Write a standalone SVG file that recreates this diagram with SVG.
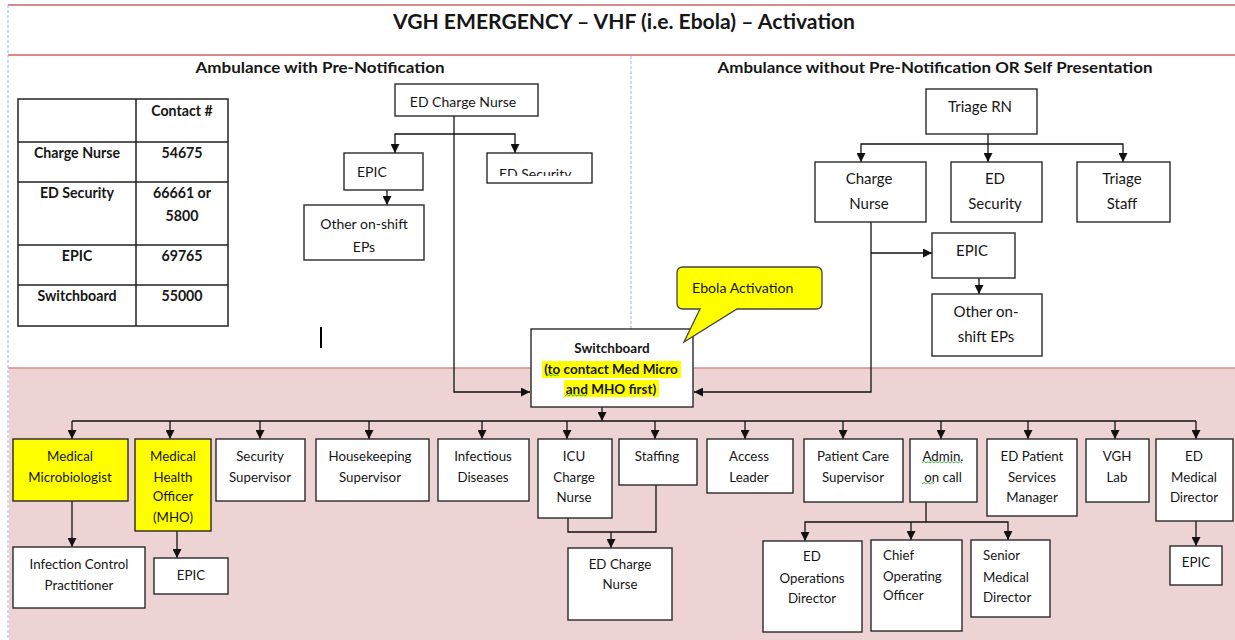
<svg xmlns="http://www.w3.org/2000/svg" width="1235" height="640" viewBox="0 0 1235 640">
<defs>
<style>
.bx{fill:#fff;stroke:#2a2a2a;stroke-width:1.4}
.yl{fill:#ffff00;stroke:#2a2a2a;stroke-width:1.4}
.ln{fill:none;stroke:#111;stroke-width:1.3}
.ar{fill:none;stroke:#111;stroke-width:1.3;marker-end:url(#ah)}
text{font-family:Lato,"Open Sans","Liberation Sans",sans-serif;fill:#161616}
.t{font-size:13.3px;text-anchor:middle}
.tl{font-size:13.3px}
.m{font-size:14px;text-anchor:middle}
.r{font-size:15px;text-anchor:middle}
.b{font-size:13.5px;font-weight:bold;text-anchor:middle}
.tb{font-size:14.2px;font-weight:bold;text-anchor:middle}
.sq{fill:none;stroke:#3aa83a;stroke-width:0.9}
</style>
<marker id="ah" viewBox="0 0 10 10" refX="10" refY="5" markerWidth="9" markerHeight="9" orient="auto" markerUnits="userSpaceOnUse">
<path d="M0,0 L10,5 L0,10 z" fill="#111"/>
</marker>
<clipPath id="secclip"><rect x="487" y="153" width="105" height="23"/></clipPath>
</defs>

<!-- background -->
<rect x="0" y="0" width="1235" height="640" fill="#fff"/>
<rect x="9" y="368" width="1226" height="272" fill="#eed3d4"/>
<g id="frame">
<line x1="8" y1="5" x2="1235" y2="5" stroke="#d98a8b" stroke-width="2"/>
<line x1="8" y1="55" x2="1235" y2="55" stroke="#d98a8b" stroke-width="2"/>
<line x1="8" y1="368" x2="1235" y2="368" stroke="#d98a8b" stroke-width="1.6"/>
<line x1="8" y1="5" x2="8" y2="640" stroke="#9fb6d6" stroke-width="1" stroke-dasharray="3,2"/>
<line x1="631" y1="56" x2="631" y2="368" stroke="#9fb6d6" stroke-width="1" stroke-dasharray="3,2"/>
</g>

<g id="titles">
<text x="624" y="29" font-size="20" font-weight="bold" text-anchor="middle" textLength="462" lengthAdjust="spacingAndGlyphs">VGH EMERGENCY – VHF (i.e. Ebola) – Activation</text>
<text x="320" y="73" font-size="15" font-weight="bold" text-anchor="middle" textLength="249" lengthAdjust="spacingAndGlyphs">Ambulance with Pre-Notification</text>
<text x="935" y="73" font-size="15" font-weight="bold" text-anchor="middle" textLength="435" lengthAdjust="spacingAndGlyphs">Ambulance without Pre-Notification OR Self Presentation</text>
</g>

<!-- contact table -->
<g id="contact-table">
<rect x="18" y="99" width="210" height="227" fill="#fff" stroke="#222" stroke-width="1.5"/>
<path d="M136,99 V326 M18,142 H228 M18,182 H228 M18,245 H228 M18,285 H228" stroke="#222" stroke-width="1.5" fill="none"/>
<text class="tb" x="182" y="116">Contact #</text>
<text class="tb" x="77" y="158">Charge Nurse</text>
<text class="tb" x="182" y="158">54675</text>
<text class="tb" x="77" y="198">ED Security</text>
<text class="tb" x="182" y="198">66661 or</text>
<text class="tb" x="182" y="221">5800</text>
<text class="tb" x="77" y="261">EPIC</text>
<text class="tb" x="182" y="261">69765</text>
<text class="tb" x="77" y="301">Switchboard</text>
<text class="tb" x="182" y="301">55000</text>
</g>

<!-- text cursor mark -->
<line x1="321" y1="327" x2="321" y2="348" stroke="#000" stroke-width="2"/>

<!-- connectors -->
<g id="connectors">
<path class="ln" d="M454,116 V134"/>
<path class="ar" d="M454,134 H395 V153"/>
<path class="ar" d="M454,134 H515 V153"/>
<path class="ar" d="M454,134 V392 H530"/>
<path class="ar" d="M387,190 V205"/>

<path class="ar" d="M988,134 V162"/>
<path class="ar" d="M988,144 H861 V162"/>
<path class="ar" d="M988,144 H1123 V162"/>
<path class="ar" d="M871,222 V392 H694"/>
<path class="ar" d="M871,253 H932"/>
<path class="ar" d="M979,278 V294"/>

<path class="ar" d="M602,407 V421"/>
<path class="ln" d="M72,421 H1196"/>
<path class="ar" d="M72,421 V439"/>
<path class="ar" d="M170,421 V439"/>
<path class="ar" d="M260,421 V439"/>
<path class="ar" d="M369,421 V439"/>
<path class="ar" d="M482,421 V439"/>
<path class="ar" d="M567,421 V439"/>
<path class="ar" d="M655,421 V439"/>
<path class="ar" d="M745,421 V439"/>
<path class="ar" d="M843,421 V439"/>
<path class="ar" d="M941,421 V439"/>
<path class="ar" d="M1028,421 V439"/>
<path class="ar" d="M1115,421 V439"/>
<path class="ar" d="M1196,421 V439"/>

<path class="ar" d="M72,501 V547"/>
<path class="ar" d="M177,531 V558"/>
<path class="ln" d="M568,518 V532 H656 V485"/>
<path class="ar" d="M611,532 V548"/>
<path class="ln" d="M926,502 V522"/>
<path class="ar" d="M926,522 H805 V541"/>
<path class="ar" d="M911,522 V540"/>
<path class="ar" d="M926,522 H1008 V540"/>
<path class="ar" d="M1196,521 V546"/>
</g>

<!-- left (pre-notification) nodes -->
<g id="ed-charge-nurse-top"><rect class="bx" x="395" y="84" width="143" height="32"/><text class="m" x="463" y="107">ED Charge Nurse</text></g>
<g id="epic-left"><rect class="bx" x="344" y="153" width="79" height="37"/><text x="357" y="177" font-size="14">EPIC</text></g>
<g id="ed-security-left"><rect class="bx" x="487" y="153" width="105" height="30"/><text x="499" y="179" font-size="14" clip-path="url(#secclip)">ED Security</text></g>
<g id="other-eps-left"><rect class="bx" x="304" y="205" width="120" height="55"/><text class="m" x="364" y="229">Other on-shift</text><text class="m" x="364" y="252">EPs</text></g>

<!-- right (no pre-notification) nodes -->
<g id="triage-rn"><rect class="bx" x="926" y="89" width="111" height="45"/><text class="r" x="980" y="112">Triage RN</text></g>
<g id="charge-nurse-right"><rect class="bx" x="815" y="162" width="111" height="60"/><text class="r" x="869" y="184">Charge</text><text class="r" x="869" y="209">Nurse</text></g>
<g id="ed-security-right"><rect class="bx" x="951" y="162" width="91" height="60"/><text class="r" x="995" y="184">ED</text><text class="r" x="995" y="209">Security</text></g>
<g id="triage-staff"><rect class="bx" x="1077" y="162" width="93" height="60"/><text class="r" x="1122" y="184">Triage</text><text class="r" x="1122" y="209">Staff</text></g>
<g id="epic-right"><rect class="bx" x="932" y="233" width="83" height="45"/><text class="r" x="972" y="256">EPIC</text></g>
<g id="other-eps-right"><rect class="bx" x="932" y="294" width="110" height="62"/><text class="r" x="986" y="317">Other on-</text><text class="r" x="986" y="342">shift EPs</text></g>

<!-- switchboard -->
<g id="switchboard">
<rect class="bx" x="531" y="329" width="162" height="78"/>
<rect x="542" y="361" width="139" height="17" fill="#ffff00"/>
<rect x="564" y="380" width="95" height="17" fill="#ffff00"/>
<text class="b" x="612" y="353">Switchboard</text>
<text class="b" x="611" y="374">(to contact Med Micro</text>
<text class="b" x="611" y="394">and MHO first)</text>
<path class="sq" d="M547,376 l2,-1.5 l2,1.5 l2,-1.5 l2,1.5 l2,-1.5 l2,1.5"/>
<path class="sq" d="M565,396 l2,-1.5 l2,1.5 l2,-1.5 l2,1.5 l2,-1.5 l2,1.5 l2,-1.5 l2,1.5 l2,-1.5 l2,1.5 l2,-1.5"/>
</g>

<!-- callout -->
<g id="ebola-activation">
<path d="M683,267 H816 Q822,267 822,273 V303 Q822,309 816,309 H737 L684,342 L700,309 H683 Q677,309 677,303 V273 Q677,267 683,267 Z" fill="#ffff00" stroke="#444" stroke-width="1.3"/>
<text x="692" y="293" font-size="14.2">Ebola Activation</text>
</g>

<!-- bottom row -->
<g id="medical-microbiologist"><rect class="yl" x="13" y="439" width="115" height="62"/><text class="t" x="70" y="461">Medical</text><text class="t" x="70" y="481.5">Microbiologist</text></g>
<g id="mho"><rect class="yl" x="135" y="439" width="76" height="92"/><text class="t" x="173" y="461">Medical</text><text class="t" x="173" y="481.5">Health</text><text class="t" x="173" y="501">Officer</text><text class="t" x="173" y="521.5">(MHO)</text></g>
<g id="security-supervisor"><rect class="bx" x="216" y="439" width="89" height="62"/><text class="t" x="260" y="461">Security</text><text class="t" x="260" y="481.5">Supervisor</text></g>
<g id="housekeeping-supervisor"><rect class="bx" x="316" y="439" width="113" height="62"/><text class="t" x="370" y="461">Housekeeping</text><text class="t" x="370" y="481.5">Supervisor</text></g>
<g id="infectious-diseases"><rect class="bx" x="438" y="439" width="91" height="62"/><text class="t" x="483" y="461">Infectious</text><text class="t" x="483" y="481.5">Diseases</text></g>
<g id="icu-charge-nurse"><rect class="bx" x="538" y="439" width="74" height="79"/><text class="t" x="574" y="461">ICU</text><text class="t" x="574" y="481.5">Charge</text><text class="t" x="574" y="502">Nurse</text></g>
<g id="staffing"><rect class="bx" x="619" y="439" width="78" height="46"/><text class="t" x="657" y="461">Staffing</text></g>
<g id="access-leader"><rect class="bx" x="707" y="439" width="86" height="54"/><text class="t" x="749" y="461">Access</text><text class="t" x="749" y="481.5">Leader</text></g>
<g id="patient-care-supervisor"><rect class="bx" x="804" y="439" width="99" height="63"/><text class="t" x="853" y="461">Patient Care</text><text class="t" x="853" y="481.5">Supervisor</text></g>
<g id="admin-on-call"><rect class="bx" x="910" y="439" width="67" height="63"/><text class="t" x="943" y="461">Admin.</text><text class="t" x="943" y="481.5">on call</text>
<path class="sq" d="M922,463 l2,-1.5 l2,1.5 l2,-1.5 l2,1.5 l2,-1.5 l2,1.5 l2,-1.5 l2,1.5 l2,-1.5 l2,1.5 l2,-1.5 l2,1.5 l2,-1.5 l2,1.5 l2,-1.5 l2,1.5 l2,-1.5 l2,1.5 l2,-1.5 l2,1.5"/>
<path class="sq" d="M922,484 l2,-1.5 l2,1.5 l2,-1.5 l2,1.5 l2,-1.5 l2,1.5"/></g>
<g id="ed-patient-services-manager"><rect class="bx" x="987" y="439" width="90" height="77"/><text class="t" x="1032" y="461">ED Patient</text><text class="t" x="1032" y="481.5">Services</text><text class="t" x="1032" y="502">Manager</text></g>
<g id="vgh-lab"><rect class="bx" x="1086" y="439" width="63" height="63"/><text class="t" x="1117" y="461">VGH</text><text class="t" x="1117" y="481.5">Lab</text></g>
<g id="ed-medical-director"><rect class="bx" x="1156" y="439" width="77" height="82"/><text class="t" x="1194" y="461">ED</text><text class="t" x="1194" y="481.5">Medical</text><text class="t" x="1194" y="502">Director</text></g>

<!-- second level -->
<g id="infection-control-practitioner"><rect class="bx" x="13" y="547" width="132" height="61"/><text class="t" x="79" y="568.5">Infection Control</text><text class="t" x="79" y="589.5">Practitioner</text></g>
<g id="epic-mho"><rect class="bx" x="154" y="558" width="74" height="36"/><text class="t" x="191" y="580">EPIC</text></g>
<g id="ed-charge-nurse-bottom"><rect class="bx" x="568" y="548" width="104" height="72"/><text class="t" x="620" y="568.5">ED Charge</text><text class="t" x="620" y="588.5">Nurse</text></g>
<g id="ed-operations-director"><rect class="bx" x="763" y="541" width="99" height="91"/><text class="t" x="812" y="560.5">ED</text><text class="t" x="812" y="582.5">Operations</text><text class="t" x="812" y="602.5">Director</text></g>
<g id="chief-operating-officer"><rect class="bx" x="871" y="540" width="91" height="91"/><text class="tl" x="883" y="559.5">Chief</text><text class="tl" x="883" y="580.5">Operating</text><text class="tl" x="883" y="599.5">Officer</text></g>
<g id="senior-medical-director"><rect class="bx" x="971" y="540" width="79" height="77"/><text class="tl" x="983" y="559.5">Senior</text><text class="tl" x="983" y="581.5">Medical</text><text class="tl" x="983" y="601.5">Director</text></g>
<g id="epic-edmd"><rect class="bx" x="1170" y="546" width="52" height="39"/><text class="t" x="1196" y="567">EPIC</text></g>
</svg>
